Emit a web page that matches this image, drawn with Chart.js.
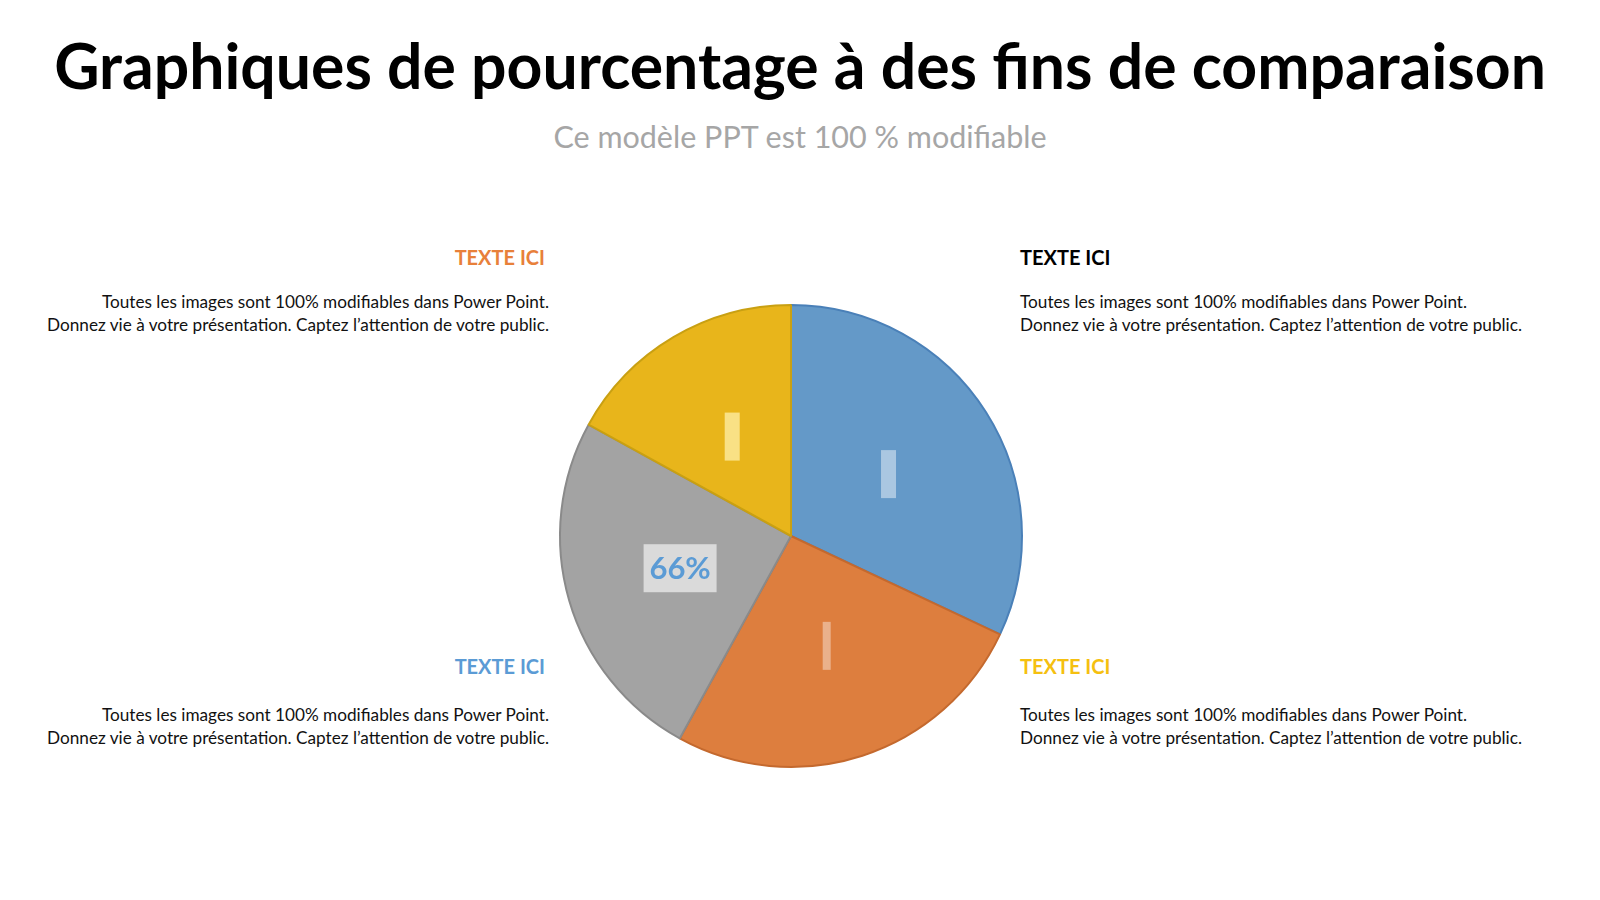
<!DOCTYPE html>
<html>
<head>
<meta charset="utf-8">
<script src="https://cdn.jsdelivr.net/npm/chart.js@4.4.1/dist/chart.umd.min.js"></script>
<style>
  body { margin: 0; width: 1600px; height: 900px; background: #fff; font-family: Lato, "Open Sans", sans-serif; position: relative; overflow: hidden; }
  .abs { position: absolute; white-space: nowrap; }
  #titre { left: 0; width: 1600px; top: 27px; text-align: center; font-size: 62.5px; font-weight: 700; color: #000; }
  #sous-titre { left: 0; width: 1600px; top: 118px; text-align: center; font-size: 30.5px; color: #a6a6a6; }
  .tete { font-size: 20px; font-weight: 700; }
  .corps { font-size: 17.2px; line-height: 22.5px; color: #111; }
  #graphe { position: absolute; left: 551px; top: 296px; width: 480px; height: 480px; }
</style>
</head>
<body>
<div id="titre" class="abs">Graphiques de pourcentage à des fins de comparaison</div>
<div id="sous-titre" class="abs">Ce modèle PPT est 100 % modifiable</div>

<div class="abs tete" style="right:1055px; top:245px; color:#e8803a;">TEXTE ICI</div>
<div class="abs corps" style="right:1051px; top:291px; text-align:right;">Toutes les images sont 100% modifiables dans Power Point.<br>Donnez vie à votre présentation. Captez l’attention de votre public.</div>

<div class="abs tete" style="left:1020px; top:245px; color:#000;">TEXTE ICI</div>
<div class="abs corps" style="left:1020px; top:291px;">Toutes les images sont 100% modifiables dans Power Point.<br>Donnez vie à votre présentation. Captez l’attention de votre public.</div>

<div class="abs tete" style="right:1055px; top:654px; color:#5b9bd5;">TEXTE ICI</div>
<div class="abs corps" style="right:1051px; top:704px; text-align:right;">Toutes les images sont 100% modifiables dans Power Point.<br>Donnez vie à votre présentation. Captez l’attention de votre public.</div>

<div class="abs tete" style="left:1020px; top:654px; color:#f5c010;">TEXTE ICI</div>
<div class="abs corps" style="left:1020px; top:704px;">Toutes les images sont 100% modifiables dans Power Point.<br>Donnez vie à votre présentation. Captez l’attention de votre public.</div>

<canvas id="graphe" width="480" height="480"></canvas>

<script>
// données (dans le sens horaire depuis midi)
const categories = ['Bleu', 'Orange', 'Gris', 'Jaune'];
const valeurs = [32, 26, 25, 17];
const etiquettes = ['', '', '66%', ''];
const couleurs = ['#6499c8', '#dd7e3e', '#a3a3a3', '#e8b51b'];
const bordures = ['#4a80b8', '#c4692e', '#8a8a8a', '#c9a012'];

// petites boîtes blanches translucides au centre de chaque part
const boitesEtiquettes = {
  id: 'boitesEtiquettes',
  afterDatasetsDraw(chart) {
    const ctx = chart.ctx;
    const arcs = chart.getDatasetMeta(0).data;
    const largeurs = [15, 8, 73, 15];
    const fonds = ['rgba(255,255,255,0.45)', 'rgba(255,255,255,0.4)', 'rgba(255,255,255,0.6)', 'rgba(255,240,170,0.75)'];
    arcs.forEach((arc, i) => {
      const { x, y } = arc.getCenterPoint();
      const w = largeurs[i], h = 48;
      ctx.save();
      ctx.fillStyle = fonds[i];
      ctx.fillRect(x - w / 2, y - h / 2, w, h);
      if (etiquettes[i]) {
        ctx.fillStyle = '#5b9bd5';
        ctx.font = 'bold 31px Lato, "Open Sans", sans-serif';
        ctx.textAlign = 'center';
        ctx.textBaseline = 'middle';
        ctx.fillText(etiquettes[i], x, y + 1);
      }
      ctx.restore();
    });
  }
};

new Chart(document.getElementById('graphe'), {
  type: 'pie',
  data: {
    labels: categories,
    datasets: [{
      data: valeurs,
      backgroundColor: couleurs,
      borderColor: bordures,
      borderWidth: 2
    }]
  },
  options: {
    responsive: false,
    animation: false,
    layout: { padding: 8 },
    plugins: {
      legend: { display: false },
      tooltip: { enabled: false },
      title: { display: false }
    }
  },
  plugins: [boitesEtiquettes]
});
</script>
</body>
</html>
